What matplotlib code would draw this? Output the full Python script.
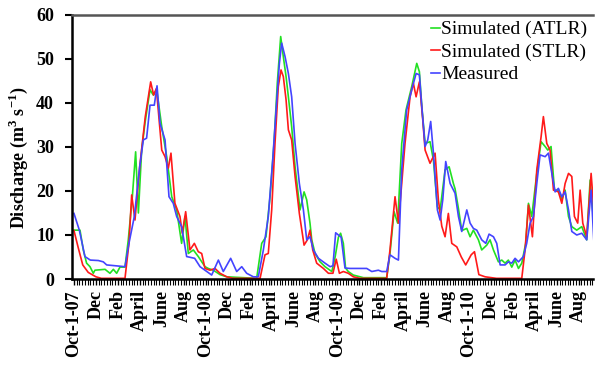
import matplotlib
matplotlib.use("Agg")
import matplotlib.pyplot as plt
from matplotlib.ticker import MultipleLocator

plt.rcParams['font.family'] = ['Liberation Serif', 'DejaVu Serif']
plt.rcParams['mathtext.fontset'] = 'custom'
plt.rcParams['mathtext.rm'] = 'Liberation Serif'
plt.rcParams['mathtext.bf'] = 'Liberation Serif:bold'

# time in months since 1 Oct 2007
atlr_t = [0, 0.55, 0.85, 1.15, 1.46, 1.76, 1.91, 2.83, 3.28, 3.59, 3.89, 4.19, 4.65, 4.95, 5.32, 5.62,
          5.87, 6.17, 6.47, 6.93, 7.23, 7.54, 8.0, 8.45, 8.91, 9.36, 9.81, 10.12, 10.42, 10.88, 11.33, 11.94,
          12.24, 12.7, 13.31, 13.92, 16.65, 17.11, 17.5, 17.87, 18.23, 18.53, 18.84, 19.08, 19.33, 19.54,
          19.84, 20.15, 20.6, 20.97, 21.21, 21.51, 21.67, 21.97, 22.43, 22.88, 23.5, 23.8, 24.1, 24.3,
          24.55, 24.75, 25.0, 25.46, 26.38, 28.5, 28.8, 29.17, 29.5, 29.87, 30.26, 30.78, 31.24, 31.48,
          31.7, 32.0, 32.45, 32.76, 33.12, 33.37, 33.82, 34.19, 34.58, 34.73, 35.04, 35.34, 35.8, 36.1,
          36.4, 36.86, 37.16, 37.62, 37.92, 38.23, 38.68, 38.99, 39.29, 39.59, 39.9, 40.2, 40.51, 40.81,
          41.17, 41.42, 41.72, 42.18, 42.57, 42.94, 43.18, 43.48, 43.79, 44.15, 44.46, 44.76, 45.07,
          45.37, 45.82, 46.28, 46.73, 47.04, 47.4]
atlr_v = [11.1, 11.1, 6.6, 3.6, 2.8, 1.3, 2.0, 2.2, 1.3, 2.2, 1.3, 2.7, 2.7, 8.9, 18.7, 28.9,
          15.0, 29.3, 35.4, 43.0, 41.8, 43.0, 34.6, 27.8, 18.7, 15.7, 8.1, 14.2, 5.8, 6.6, 5.1, 2.8,
          2.4, 2.0, 1.0, 0.5, 0.15, 8.1, 9.6, 18.7, 30.8, 44.5, 55.1, 50.5, 46.0, 41.4,
          34.6, 25.5, 15.7, 19.8, 18.0, 12.7, 8.9, 5.8, 3.9, 2.8, 1.7, 5.0, 9.5, 10.4,
          8.1, 2.5, 1.7, 0.9, 0.3, 0.3, 5.8, 15.3, 12.7, 30.8, 38.4, 43.7, 49.0, 47.1,
          39.2, 30.8, 31.2, 27.0, 16.4, 15.7, 24.8, 25.5, 21.7, 20.5, 16.0, 11.0, 11.5, 9.6,
          11.1, 8.9, 6.6, 7.7, 8.9, 6.6, 3.9, 4.3, 3.6, 4.3, 2.7, 4.3, 2.4, 3.6,
          8.1, 17.2, 14.2, 24.0, 31.2, 30.1, 29.3, 30.1, 20.2, 20.2, 18.0, 20.2, 14.2,
          11.9, 11.1, 11.9, 8.9, 22.5, 12.0]

stlr_t = [0, 0.4, 0.8, 1.3, 2.0, 2.5, 4.65, 5.01, 5.26, 5.56, 5.99, 6.5, 6.99, 7.26, 7.51, 8.0, 8.3,
          8.6, 8.84, 9.2, 9.66, 9.87, 10.18, 10.57, 10.97, 11.33, 11.64, 11.94, 12.4, 12.85, 13.31,
          13.92, 14.5, 16.96, 17.41, 17.71, 18.02, 18.32, 18.62, 18.87, 19.08, 19.33, 19.54, 19.84,
          20.15, 20.54, 20.97, 21.27, 21.51, 21.76, 22.12, 22.73, 23.19, 23.6, 23.9, 24.19, 24.55,
          25.0, 25.46, 26.07, 28.5, 28.8, 29.26, 29.57, 29.87, 30.17, 30.63, 30.93, 31.18, 31.48,
          31.79, 32.0, 32.45, 32.91, 33.21, 33.52, 33.82, 34.12, 34.43, 34.89, 35.3, 35.7, 36.2,
          36.5, 36.9, 37.47, 38.5, 40.81, 41.11, 41.42, 41.78, 42.18, 42.57, 42.78, 43.09, 43.39,
          43.7, 44.15, 44.46, 44.76, 45.07, 45.37, 45.61, 45.91, 46.13, 46.37, 46.73, 47.13, 47.4]
stlr_v = [11.0, 7.0, 3.2, 1.5, 0.5, 0.15, 0.15, 8.1, 19.1, 13.4, 25.5, 36.9, 44.8, 41.8, 43.3, 29.3, 27.8,
          25.2, 28.6, 17.2, 14.2, 10.4, 15.3, 6.6, 8.1, 6.2, 5.8, 2.4, 2.0, 2.4, 1.3,
          0.5, 0.15, 0.15, 5.5, 5.8, 15.7, 30.8, 43.7, 47.5, 46.0, 40.7, 33.9, 31.6,
          23.3, 14.9, 7.7, 8.9, 11.1, 6.6, 3.6, 2.4, 1.3, 1.3, 4.5, 1.3, 1.7,
          1.3, 0.5, 0.15, 0.15, 6.6, 18.7, 12.7, 21.7, 30.8, 41.4, 44.5, 41.4, 44.8,
          36.1, 29.3, 26.3, 28.6, 18.0, 12.0, 9.6, 14.9, 8.1, 7.3, 5.0, 3.2, 5.5,
          6.2, 1.0, 0.5, 0.15, 0.15, 6.6, 16.8, 9.6, 24.8, 32.3, 36.9, 30.8, 29.3,
          20.2, 19.8, 17.2, 21.7, 24.0, 23.3, 14.2, 12.7, 20.2, 12.7, 9.6, 24.0, 15.0]

meas_t = [0, 0.49, 1.0, 1.49, 2.22, 2.67, 2.98, 4.65, 5.01, 5.5, 5.99, 6.32, 6.62, 6.93, 7.32, 7.57,
          7.84, 8.3, 8.66, 9.05, 9.36, 9.81, 10.27, 11.0, 11.49, 11.94, 12.55, 13.16, 13.61, 14.28,
          14.83, 15.29, 15.74, 16.35, 16.8, 17.26, 17.71, 18.11, 18.42, 18.72, 18.93, 19.24, 19.54,
          19.84, 20.15, 20.54, 20.91, 21.21, 21.51, 21.82, 22.28, 22.88, 23.34, 23.6, 23.85, 24.35,
          24.7, 25.16, 26.68, 27.14, 27.74, 28.05, 28.5, 28.8, 29.26, 29.57, 29.87, 30.32, 30.78,
          31.18, 31.48, 31.7, 32.0, 32.24, 32.51, 32.76, 33.12, 33.37, 33.61, 33.88, 34.28, 34.73,
          35.04, 35.34, 35.8, 36.1, 36.4, 36.71, 37.16, 37.53, 37.83, 38.23, 38.53, 38.84, 39.29,
          39.59, 39.9, 40.2, 40.51, 40.96, 41.26, 41.57, 41.87, 42.18, 42.48, 42.94, 43.24, 43.55,
          43.85, 44.15, 44.46, 44.76, 45.07, 45.37, 45.82, 46.28, 46.73, 47.13, 47.4]
meas_v = [14.9, 11.1, 5.1, 4.3, 4.2, 3.9, 3.2, 2.8, 8.1, 14.2, 25.5, 31.6, 32.0, 39.5, 39.5, 43.9,
          35.4, 31.6, 18.7, 17.2, 14.2, 11.9, 5.1, 4.7, 2.8, 2.0, 0.9, 4.3, 1.7, 4.7,
          1.7, 2.8, 1.3, 0.5, 0.5, 6.6, 14.2, 27.0, 38.4, 49.0, 53.6, 50.5, 46.7,
          41.4, 30.8, 21.7, 15.7, 8.9, 9.6, 6.6, 4.7, 3.6, 2.8, 3.0, 10.5, 9.5,
          2.5, 2.4, 2.4, 1.7, 2.0, 1.7, 1.7, 5.5, 4.7, 4.3, 24.8, 38.4, 43.0,
          46.7, 46.4, 39.2, 30.1, 31.6, 35.8, 28.6, 15.7, 13.4, 18.0, 26.7, 21.7, 19.5,
          14.2, 10.8, 15.7, 12.7, 11.5, 11.1, 8.9, 8.1, 10.2, 9.6, 8.1, 3.2, 3.2,
          3.9, 3.6, 4.7, 3.9, 5.1, 8.1, 12.7, 14.2, 21.7, 28.2, 27.8, 28.6, 24.0,
          19.8, 20.6, 18.7, 19.8, 15.7, 10.8, 10.0, 10.4, 8.9, 20.2, 7.7]

tick_months = list(range(0, 48, 2))
tick_labels = ["Oct-1-07", "Dec", "Feb", "April", "June", "Aug",
               "Oct-1-08", "Dec", "Feb", "April", "June", "Aug",
               "Oct-1-09", "Dec", "Feb", "April", "June", "Aug",
               "Oct-1-10", "Dec", "Feb", "April", "June", "Aug"]

fig = plt.figure(figsize=(5.95, 3.65), dpi=100)
ax = fig.add_axes([0.121, 0.2356, 0.8756, 0.7234])

ax.plot(atlr_t, atlr_v, color='#22e022', lw=1.2, label='Simulated (ATLR)')
ax.plot(stlr_t, stlr_v, color='#ff1a1a', lw=1.2, label='Simulated (STLR)')
ax.plot(meas_t, meas_v, color='#4444ff', lw=1.2, label='Measured')

ax.set_xlim(-0.18, 47.3)
ax.set_ylim(0, 60)
ax.set_yticks(range(0, 61, 10))
ax.set_xticks(tick_months)
ax.set_xticklabels(tick_labels, rotation=90, fontsize=13, fontweight='bold')
ax.xaxis.set_minor_locator(MultipleLocator(0.25))
ax.tick_params(axis='x', which='major', length=4, width=1, pad=4)
ax.tick_params(axis='x', which='minor', length=4, width=0.8)
ax.tick_params(axis='y', which='major', length=5, width=1.5, labelsize=13, pad=8)
for lab in ax.get_yticklabels():
    lab.set_fontweight('bold')

ax.set_ylabel(r'Discharge (m$^{\mathbf{3}}$ s$^{\mathbf{-1}}$)', fontsize=13, fontweight='bold')
ax.yaxis.set_label_coords(-0.08, 0.46)

ax.spines['right'].set_visible(False)
ax.spines['left'].set_linewidth(1.8)
ax.spines['bottom'].set_linewidth(1.8)
ax.spines['top'].set_linewidth(1.8)
ax.spines['top'].set_color('#555555')

ax.legend(loc='upper right', frameon=False, fontsize=14, handlelength=0.45, handletextpad=0.05,
          labelspacing=0.25, borderaxespad=0.1, borderpad=0.2)

fig.savefig('out.png', dpi=100)
